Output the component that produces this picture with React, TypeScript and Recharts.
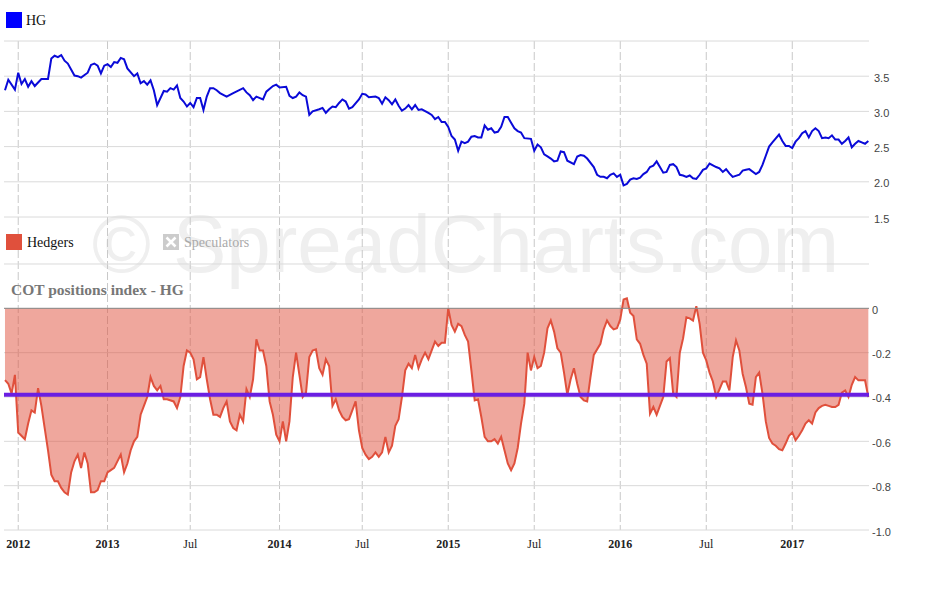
import React from 'react';
import { Area, CartesianGrid, ComposedChart, Line, ReferenceLine, XAxis, YAxis } from 'recharts';

// weekly index from the first bar (early Dec 2011)
const hgWeek = [0,1,3,4,5,6,7,8,9,11,13,14,15,16,17,18,19,21,22,23,25,26,27,28,29,30,31,32,33,34,35,36,37,39,40,41,42,43,44,45,46,48,49,50,51,52,53,54,55,56,57,58,59,60,61,62,63,64,65,67,69,72,73,74,75,76,78,79,81,82,83,85,86,87,88,89,90,91,92,93,95,96,97,98,99,100,101,102,103,104,105,107,108,109,110,112,113,114,115,116,117,118,119,120,121,122,123,124,125,126,128,129,130,131,132,133,134,135,136,137,138,139,140,141,142,143,144,145,146,147,148,149,150,151,152,153,154,155,156,157,159,160,161,162,163,164,165,166,167,168,169,170,172,173,174,175,176,178,179,180,181,182,183,184,185,186,187,188,189,190,191,192,193,194,195,196,197,198,199,200,201,202,203,204,205,206,207,208,209,210,211,212,213,215,216,217,218,219,220,222,223,224,225,227,228,229,230,231,232,234,235,236,237,238,239,240,241,242,243,244,245,246,247,248,249,250,251,252,253,254,255,256,257,258,259,260,261];
const hgPrice = [3.30,3.45,3.31,3.55,3.39,3.46,3.35,3.43,3.36,3.46,3.46,3.75,3.79,3.77,3.80,3.72,3.68,3.51,3.50,3.48,3.55,3.66,3.68,3.65,3.54,3.65,3.67,3.63,3.70,3.69,3.76,3.74,3.61,3.50,3.54,3.40,3.43,3.38,3.44,3.30,3.09,3.29,3.28,3.33,3.31,3.37,3.19,3.14,3.07,3.12,3.06,3.19,3.19,3.02,3.21,3.33,3.33,3.30,3.26,3.21,3.26,3.33,3.27,3.23,3.16,3.21,3.17,3.28,3.36,3.38,3.34,3.35,3.22,3.19,3.21,3.27,3.23,3.21,2.95,3.00,3.03,3.05,2.98,3.03,3.07,3.06,3.12,3.17,3.14,3.04,3.06,3.17,3.25,3.24,3.20,3.21,3.19,3.11,3.20,3.16,3.10,3.17,3.08,3.01,3.04,3.09,3.03,3.09,3.02,3.03,2.98,2.95,2.89,2.92,2.85,2.85,2.78,2.65,2.60,2.44,2.57,2.55,2.57,2.64,2.65,2.63,2.63,2.80,2.74,2.76,2.70,2.71,2.78,2.92,2.92,2.84,2.76,2.72,2.70,2.62,2.61,2.44,2.53,2.49,2.39,2.36,2.33,2.29,2.30,2.43,2.42,2.30,2.25,2.36,2.38,2.37,2.33,2.21,2.10,2.07,2.07,2.05,2.10,2.12,2.07,2.10,1.95,1.97,2.03,2.05,2.04,2.06,2.11,2.14,2.21,2.23,2.29,2.21,2.13,2.14,2.24,2.25,2.21,2.10,2.09,2.07,2.09,2.05,2.04,2.10,2.17,2.19,2.26,2.21,2.19,2.14,2.18,2.12,2.07,2.10,2.16,2.17,2.18,2.11,2.14,2.24,2.37,2.50,2.56,2.67,2.58,2.51,2.51,2.48,2.57,2.62,2.69,2.72,2.63,2.72,2.76,2.72,2.62,2.63,2.62,2.66,2.60,2.60,2.54,2.58,2.63,2.49,2.54,2.58,2.56,2.54,2.58];

const cotWeek = [0,1,2,3,4,6,7,8,9,10,11,12,13,14,15,16,17,18,19,20,21,22,23,24,25,26,27,28,29,30,31,32,33,35,36,37,38,39,40,41,42,43,44,45,46,47,48,49,51,52,53,54,55,56,57,58,59,60,61,62,63,64,65,66,67,68,69,70,71,72,73,74,75,76,77,78,79,80,81,82,83,84,85,86,87,88,89,90,91,92,93,94,95,96,97,98,99,100,101,102,103,104,105,106,107,108,109,110,111,112,113,114,115,116,117,118,119,120,121,122,123,124,125,126,127,128,129,130,131,132,133,134,135,136,137,138,139,140,141,142,143,144,145,146,147,148,149,150,151,152,153,154,155,156,157,158,159,160,161,162,163,164,165,166,167,168,169,170,171,172,173,174,175,176,177,178,180,181,182,183,184,185,186,187,188,189,190,191,192,193,194,195,196,197,198,199,200,201,202,203,204,205,206,207,208,209,210,211,212,213,214,215,216,217,218,219,220,221,222,223,224,225,226,227,228,229,230,231,232,233,234,235,236,237,238,239,240,241,242,243,244,245,246,247,248,249,250,251,252,253,254,255,256,257,258,259,260,261];
const cotHedgers = [-0.324,-0.34,-0.385,-0.30,-0.56,-0.59,-0.52,-0.46,-0.47,-0.36,-0.44,-0.54,-0.64,-0.75,-0.78,-0.78,-0.81,-0.83,-0.84,-0.74,-0.69,-0.66,-0.72,-0.65,-0.70,-0.83,-0.83,-0.82,-0.78,-0.78,-0.74,-0.73,-0.72,-0.66,-0.74,-0.70,-0.64,-0.60,-0.58,-0.48,-0.44,-0.40,-0.31,-0.35,-0.37,-0.35,-0.41,-0.41,-0.42,-0.45,-0.40,-0.26,-0.19,-0.20,-0.23,-0.32,-0.31,-0.22,-0.32,-0.41,-0.48,-0.48,-0.49,-0.45,-0.42,-0.51,-0.54,-0.55,-0.48,-0.51,-0.365,-0.40,-0.32,-0.14,-0.19,-0.19,-0.26,-0.42,-0.48,-0.57,-0.60,-0.51,-0.60,-0.51,-0.31,-0.20,-0.30,-0.40,-0.38,-0.22,-0.19,-0.185,-0.27,-0.30,-0.23,-0.26,-0.44,-0.41,-0.46,-0.49,-0.505,-0.50,-0.46,-0.42,-0.55,-0.63,-0.66,-0.68,-0.67,-0.65,-0.67,-0.65,-0.58,-0.65,-0.62,-0.53,-0.50,-0.40,-0.28,-0.25,-0.27,-0.21,-0.27,-0.23,-0.20,-0.23,-0.19,-0.15,-0.17,-0.155,-0.155,0.00,-0.075,-0.105,-0.07,-0.08,-0.12,-0.15,-0.28,-0.415,-0.41,-0.49,-0.58,-0.60,-0.60,-0.59,-0.61,-0.58,-0.64,-0.70,-0.73,-0.70,-0.63,-0.52,-0.43,-0.20,-0.28,-0.22,-0.27,-0.26,-0.20,-0.09,-0.055,-0.105,-0.18,-0.20,-0.29,-0.39,-0.32,-0.27,-0.34,-0.40,-0.415,-0.42,-0.31,-0.21,-0.16,-0.095,-0.055,-0.08,-0.095,-0.09,-0.05,0.04,0.045,-0.02,-0.035,-0.14,-0.16,-0.21,-0.25,-0.475,-0.445,-0.48,-0.44,-0.40,-0.24,-0.225,-0.385,-0.40,-0.20,-0.135,-0.04,-0.045,-0.055,0.01,-0.07,-0.20,-0.235,-0.29,-0.33,-0.40,-0.365,-0.33,-0.33,-0.37,-0.22,-0.145,-0.19,-0.295,-0.355,-0.43,-0.435,-0.31,-0.29,-0.385,-0.51,-0.585,-0.61,-0.62,-0.635,-0.64,-0.61,-0.575,-0.56,-0.595,-0.575,-0.55,-0.52,-0.505,-0.52,-0.47,-0.45,-0.44,-0.435,-0.44,-0.445,-0.445,-0.435,-0.38,-0.37,-0.40,-0.345,-0.31,-0.325,-0.325,-0.325,-0.40];
const hedgersAverage = -0.39;

const xTickWeeks = [4, 31, 56, 83, 108, 134, 160, 186, 212, 238];
const xTickLabels = ['2012', '2013', 'Jul', '2014', 'Jul', '2015', 'Jul', '2016', 'Jul', '2017'];
const hgTicks = [1.5, 2, 2.5, 3, 3.5, 4];
const cotTicks = [-1, -0.8, -0.6, -0.4, -0.2, 0, 0.2];

const hgData = hgWeek.map((w, i) => ({ w, hg: hgPrice[i] }));
const cotData = cotWeek.map((w, i) => ({ w, hedgers: cotHedgers[i] }));

const serif = '"Liberation Serif", "Times New Roman", serif';
const sans = '"Liberation Sans", Arial, sans-serif';

const XTick = (p: any) => {
  const i = xTickWeeks.indexOf(p.payload.value);
  const label = xTickLabels[i] ?? '';
  return (
    <text x={p.x} y={p.y} dy={18} textAnchor="middle" fontFamily={serif} fontSize={12}
      fontWeight={label === 'Jul' ? 'normal' : 'bold'} fill="#222">{label}</text>
  );
};

const HgTick = (p: any) => {
  const v = p.payload.value;
  if (v === 4) return <g />;
  return <text x={p.x} y={p.y} dy={5.5} textAnchor="start" fontFamily={sans} fontSize={11} fill="#444">{v.toFixed(1)}</text>;
};

const CotTick = (p: any) => {
  const v = p.payload.value;
  if (v > 0.1) return <g />;
  return <text x={p.x} y={p.y} dy={5.5} textAnchor="start" fontFamily={sans} fontSize={11} fill="#444">{v === 0 ? '0' : v.toFixed(1)}</text>;
};

export default function App() {
  return (
    <div style={{ position: 'absolute', left: 0, top: 0, width: 930, height: 610, background: '#fff', overflow: 'hidden' }}>
      <svg width={930} height={610} style={{ position: 'absolute', left: 0, top: 0 }}>
        <text x={92} y={272} fontFamily={sans} fontSize={82} fill="#efefef" textLength={747} lengthAdjust="spacingAndGlyphs">© SpreadCharts.com</text>
      </svg>
      <div style={{ position: 'absolute', left: 0, top: 0 }}>
        <ComposedChart width={930} height={610} margin={{ top: 41, right: 59, bottom: 50, left: 4 }}>
          <XAxis xAxisId="t" type="number" dataKey="w" domain={[-0.3, 261.2]} ticks={xTickWeeks} interval={0}
            tickLine={false} axisLine={false} tickSize={0} tickMargin={0} height={30} tick={<XTick />} />
          <YAxis yAxisId="hg" orientation="right" width={1} domain={[-2.946, 4]} ticks={hgTicks} interval={0}
            tickLine={false} axisLine={false} tickSize={0} tickMargin={4} tick={<HgTick />} />
          <YAxis yAxisId="cot" orientation="right" width={1} domain={[-1, 1.206]} ticks={cotTicks} interval={0}
            tickLine={false} axisLine={false} tickSize={0} tickMargin={3} tick={<CotTick />} />
          <CartesianGrid xAxisId="t" yAxisId="hg" horizontal={false} syncWithTicks stroke="#c8c8c8" strokeDasharray="8 3" />
          <CartesianGrid xAxisId="t" yAxisId="hg" vertical={false} syncWithTicks stroke="#dadada" />
          <CartesianGrid xAxisId="t" yAxisId="cot" vertical={false} syncWithTicks stroke="#dadada" />
          <Area xAxisId="t" yAxisId="cot" data={cotData} dataKey="hedgers" type="linear" baseValue={0}
            stroke="#e0503c" strokeWidth={2} fill="#e0503c" fillOpacity={0.5} dot={false} activeDot={false}
            isAnimationActive={false} />
          <ReferenceLine xAxisId="t" yAxisId="cot" y={0} stroke="#8a8a8a" strokeWidth={1} />
          <ReferenceLine xAxisId="t" yAxisId="cot" y={hedgersAverage} stroke="#6a1fe2" strokeWidth={4} />
          <Line xAxisId="t" yAxisId="hg" data={hgData} dataKey="hg" type="linear" stroke="#0a0ad8" strokeWidth={2}
            dot={false} activeDot={false} isAnimationActive={false} />
        </ComposedChart>
      </div>
      <svg width={930} height={610} style={{ position: 'absolute', left: 0, top: 0, pointerEvents: 'none' }}>
        <rect x={6} y={12} width={16} height={16} fill="#0000ff" />
        <text x={26} y={25} fontFamily={serif} fontSize={14} fill="#111">HG</text>
        <rect x={6} y={234} width={16} height={16} fill="#e0503c" />
        <text x={27} y={247} fontFamily={serif} fontSize={14} fill="#111">Hedgers</text>
        <rect x={163} y={234} width={16} height={16} fill="#cccccc" />
        <path d="M166.5 237.5 L175.5 246.5 M175.5 237.5 L166.5 246.5" stroke="#fff" strokeWidth={2.5} />
        <text x={184} y={247} fontFamily={serif} fontSize={14} fill="#aaaaaa">Speculators</text>
        <text x={11} y={295} fontFamily={serif} fontSize={15.5} fontWeight="bold" fill="#777">COT positions index - HG</text>
      </svg>
    </div>
  );
}
